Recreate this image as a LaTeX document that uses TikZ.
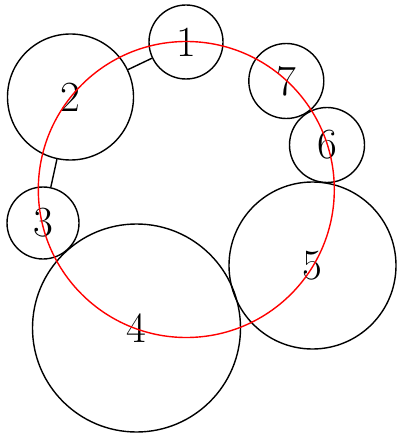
\documentclass[tikz,border=0pt]{standalone}
\begin{document}
\begin{tikzpicture}[x=1pt,y=-1pt,
  ball/.style={circle,draw=black,line width=1.4pt,inner sep=0pt,font=\fontsize{43}{50}\selectfont},
  link/.style={draw=black,line width=1.4pt}]
\useasboundingbox (0,0) rectangle (401,438);
\node[ball,minimum size=74pt] (n1) at (186,42) {1};
\node[ball,minimum size=126pt] (n2) at (70.5,97) {2};
\node[ball,minimum size=72pt] (n3) at (43,223) {3};
\node[ball,minimum size=208pt] (n4) at (136.5,328) {4};
\node[ball,minimum size=167pt] (n5) at (312.5,265.5) {5};
\node[ball,minimum size=75pt] (n6) at (327,145) {6};
\node[ball,minimum size=75pt] (n7) at (286.3,81) {7};
\draw[link] (n1) -- (n2);
\draw[link] (n2) -- (n3);
\coordinate (rc) at (186.3,189.5);
\draw[red,line width=1.4pt] (rc) circle[radius=148pt];
\end{tikzpicture}
\end{document}
